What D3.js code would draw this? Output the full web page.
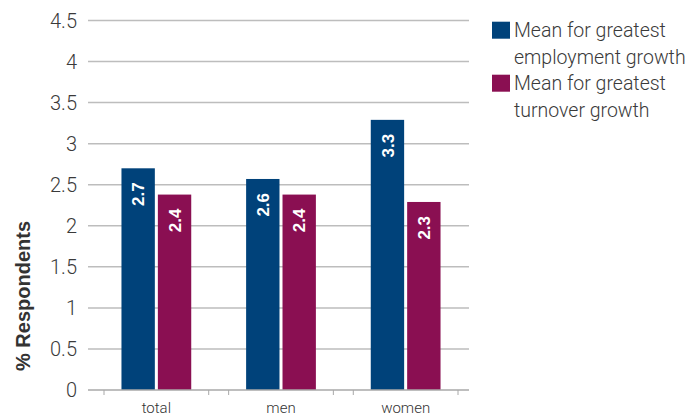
<!DOCTYPE html>
<html><head><meta charset="utf-8">
<script src="https://cdn.jsdelivr.net/npm/d3@7"></script>
<style>
html,body{margin:0;padding:0;background:#fff;}
svg{display:block;}
</style></head>
<body>
<svg id="chart" width="694" height="416"></svg>
<script>
const categories = ["total", "men", "women"];
const seriesNames = ["Mean for greatest employment growth", "Mean for greatest turnover growth"];
const legendLines = [["Mean for greatest", "employment growth"], ["Mean for greatest", "turnover growth"]];
const employmentValues = [2.7, 2.57, 3.29];
const turnoverValues = [2.38, 2.38, 2.29];
const valueLabels = [["2.7", "2.6", "3.3"], ["2.4", "2.4", "2.3"]];
const yTicks = [0, 0.5, 1, 1.5, 2, 2.5, 3, 3.5, 4, 4.5];
const yTickLabels = ["0", "0.5", "1", "1.5", "2", "2.5", "3", "3.5", "4", "4.5"];
const colors = ["#00427a", "#8a0f52"];

const svg = d3.select("#chart");
const lightFont = "Roboto, 'Liberation Sans', sans-serif";

const y = d3.scaleLinear().domain([0, 4.5]).range([390, 20.5]);
const x = d3.scaleBand().domain(categories).range([104, 458]).paddingInner(0.16).paddingOuter(0);
const xs = d3.scaleBand().domain([0, 1]).range([0, x.bandwidth()]).paddingInner(0.083).paddingOuter(0.48);

// gridlines
svg.append("g").selectAll("line").data(yTicks.filter(d => d > 0)).join("line")
  .attr("x1", 88).attr("x2", 469)
  .attr("y1", d => y(d)).attr("y2", d => y(d))
  .attr("stroke", "#bdbdbd").attr("stroke-width", 1.5);

// y tick labels
svg.append("g").selectAll("text").data(yTicks).join("text")
  .attr("x", 77).attr("y", d => y(d)).attr("dy", "0.35em")
  .attr("text-anchor", "end")
  .attr("font-family", lightFont).attr("font-weight", 300)
  .attr("font-size", 20).attr("fill", "#3a3a3a")
  .text((d, i) => yTickLabels[i]);

// bars
const data = categories.map((c, i) => ({c, vals: [employmentValues[i], turnoverValues[i]], i}));
const groups = svg.append("g").selectAll("g").data(data).join("g")
  .attr("transform", d => `translate(${x(d.c)},0)`);
groups.selectAll("rect").data(d => d.vals.map((v, s) => ({v, s}))).join("rect")
  .attr("x", d => xs(d.s)).attr("width", xs.bandwidth())
  .attr("y", d => y(d.v)).attr("height", d => y(0) - y(d.v))
  .attr("fill", d => colors[d.s]);
groups.selectAll("text.val").data(d => d.vals.map((v, s) => ({v, s, i: d.i}))).join("text")
  .attr("class", "val")
  .attr("transform", d => `translate(${xs(d.s) + xs.bandwidth() / 2},${y(d.v) + 14}) rotate(-90)`)
  .attr("text-anchor", "end").attr("dy", "0.36em")
  .attr("font-family", "'Liberation Sans', Arial, sans-serif").attr("font-weight", "bold")
  .attr("font-size", 17).attr("fill", "#fff")
  .text(d => valueLabels[d.s][d.i]);

// x axis line & ticks
svg.append("line").attr("x1", 88).attr("x2", 469).attr("y1", 390).attr("y2", 390)
  .attr("stroke", "#a8a8a8").attr("stroke-width", 1.5);
const tickXs = [];
categories.forEach(c => { tickXs.push(x(c)); tickXs.push(x(c) + x.bandwidth()); });
svg.append("g").selectAll("line").data(tickXs).join("line")
  .attr("x1", d => d).attr("x2", d => d).attr("y1", 390).attr("y2", 395)
  .attr("stroke", "#a8a8a8").attr("stroke-width", 1);
svg.append("g").selectAll("text").data(categories).join("text")
  .attr("x", d => x(d) + x.bandwidth() / 2).attr("y", 413)
  .attr("text-anchor", "middle")
  .attr("font-family", lightFont).attr("font-weight", 300)
  .attr("font-size", 15).attr("fill", "#333")
  .text(d => d);

// y title
svg.append("text")
  .attr("transform", "translate(30,296) rotate(-90)")
  .attr("text-anchor", "middle")
  .attr("font-family", "'Liberation Sans', Arial, sans-serif").attr("font-weight", "bold")
  .attr("font-size", 20).attr("fill", "#333")
  .text("% Respondents");

// legend
const lg = svg.append("g").selectAll("g").data(seriesNames).join("g")
  .attr("transform", (d, i) => `translate(492,${21.7 + i * 53})`);
lg.append("rect").attr("width", 18).attr("height", 17).attr("fill", (d, i) => colors[i]);
lg.each(function(d, i) {
  const t = d3.select(this).append("text")
    .attr("font-family", lightFont).attr("font-weight", 300)
    .attr("font-size", 19.5).attr("fill", "#3a3a3a");
  legendLines[i].forEach((ln, k) => {
    t.append("tspan").attr("x", 22).attr("y", 15.6 + k * 26.3).text(ln);
  });
});
</script>
</body></html>
